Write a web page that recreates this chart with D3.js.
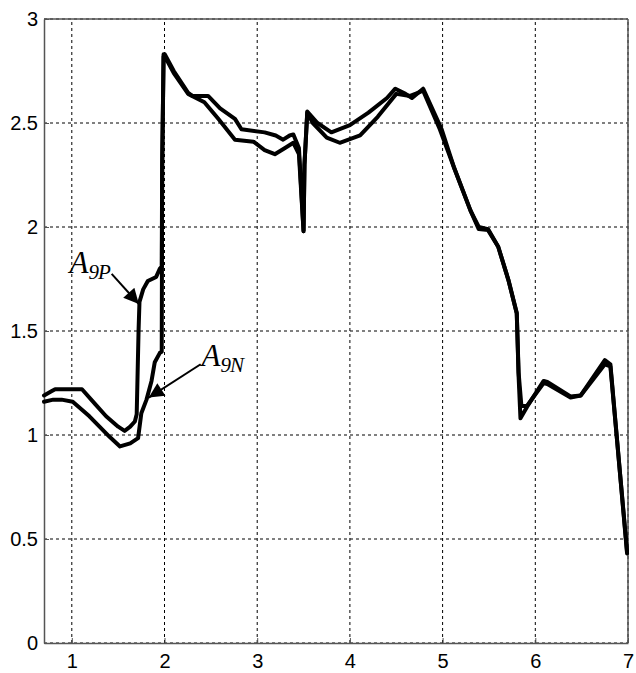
<!DOCTYPE html>
<html>
<head>
<meta charset="utf-8">
<script src="https://cdn.jsdelivr.net/npm/d3@7"></script>
<style>
body { margin: 0; background: #fff; }
svg { display: block; }
</style>
</head>
<body>
<svg id="graphe" width="636" height="673"></svg>
<script>
// valeurs
var xA9P = [0.70, 0.78, 0.82, 1.11, 1.25, 1.37, 1.50, 1.57, 1.63, 1.68, 1.70, 1.72, 1.73, 1.77, 1.82, 1.91, 1.95, 1.97, 1.975, 1.99, 2.004, 2.10, 2.255, 2.30, 2.47, 2.60, 2.76, 2.83, 3.08, 3.20, 3.28, 3.35, 3.39, 3.45, 3.50, 3.51, 3.54, 3.65, 3.80, 4.00, 4.20, 4.40, 4.49, 4.60, 4.67, 4.79, 4.99, 5.12, 5.30, 5.39, 5.49, 5.60, 5.71, 5.80, 5.82, 5.84, 5.91, 6.09, 6.13, 6.38, 6.49, 6.75, 6.81, 6.99]
var yA9P = [1.19, 1.21, 1.22, 1.22, 1.15, 1.09, 1.04, 1.02, 1.04, 1.065, 1.10, 1.50, 1.64, 1.70, 1.74, 1.76, 1.80, 1.81, 2.30, 2.83, 2.83, 2.75, 2.645, 2.63, 2.63, 2.57, 2.52, 2.47, 2.455, 2.44, 2.42, 2.44, 2.445, 2.38, 1.98, 2.30, 2.555, 2.50, 2.455, 2.49, 2.55, 2.62, 2.665, 2.64, 2.62, 2.665, 2.47, 2.29, 2.08, 1.99, 1.985, 1.905, 1.745, 1.585, 1.28, 1.08, 1.135, 1.26, 1.255, 1.185, 1.19, 1.36, 1.34, 0.43]

var xA9N = [0.70, 0.80, 0.89, 1.01, 1.19, 1.41, 1.52, 1.63, 1.715, 1.75, 1.806, 1.86, 1.895, 1.95, 1.97, 1.975, 1.99, 2.004, 2.10, 2.255, 2.43, 2.58, 2.76, 2.96, 3.08, 3.19, 3.30, 3.39, 3.45, 3.50, 3.51, 3.54, 3.60, 3.75, 3.89, 4.11, 4.30, 4.50, 4.65, 4.79, 4.97, 5.12, 5.30, 5.39, 5.49, 5.60, 5.71, 5.80, 5.82, 5.85, 5.91, 6.09, 6.13, 6.38, 6.49, 6.75, 6.81, 6.99]
var yA9N = [1.16, 1.17, 1.17, 1.16, 1.09, 0.99, 0.945, 0.96, 0.985, 1.105, 1.17, 1.26, 1.35, 1.395, 1.40, 2.30, 2.82, 2.82, 2.74, 2.64, 2.60, 2.52, 2.42, 2.41, 2.37, 2.35, 2.38, 2.405, 2.35, 1.98, 2.30, 2.55, 2.50, 2.43, 2.405, 2.44, 2.53, 2.64, 2.63, 2.655, 2.47, 2.29, 2.08, 2.00, 1.99, 1.905, 1.745, 1.585, 1.30, 1.14, 1.14, 1.25, 1.245, 1.18, 1.19, 1.34, 1.33, 0.44]

var xTicks = [1, 2, 3, 4, 5, 6, 7]
var yTicks = [0, 0.5, 1, 1.5, 2, 2.5, 3]

// annotations : [texte, indice, x texte, y texte, x queue, y queue, x pointe, y pointe]
var notes = [
    ["A", "9P", 0.975, 1.78, 1.43, 1.775, 1.723, 1.63],
    ["A", "9N", 2.40, 1.33, 2.39, 1.34, 1.83, 1.18]
]

const svg = d3.select("#graphe")

var marge = {haut: 19, droite: 8, bas: 30, gauche: 44}
var W = 636, H = 673

var x = d3.scaleLinear().domain([0.7, 7]).range([marge.gauche, W - marge.droite])
var y = d3.scaleLinear().domain([0, 3]).range([H - marge.bas, marge.haut])

//-------------------grille pointillée----------------------------------------
svg.append("g")
    .selectAll("line")
    .data(xTicks)
    .join("line")
    .attr("x1", d => x(d)).attr("x2", d => x(d))
    .attr("y1", y(0)).attr("y2", y(3))
    .attr("stroke", "black")
    .attr("stroke-width", 1)
    .attr("stroke-dasharray", "3,3")

svg.append("g")
    .selectAll("line")
    .data(yTicks)
    .join("line")
    .attr("x1", x(0.7)).attr("x2", x(7))
    .attr("y1", d => y(d)).attr("y2", d => y(d))
    .attr("stroke", "black")
    .attr("stroke-width", 1)
    .attr("stroke-dasharray", "3,3")

//-------------------axes----------------------------------------
var axeX = svg.append("g")
    .attr("transform", "translate(0," + y(0) + ")")
    .call(d3.axisBottom(x).tickValues(xTicks).tickFormat(d3.format("d")).tickSizeInner(-5).tickSizeOuter(0).tickPadding(11))

var axeY = svg.append("g")
    .attr("transform", "translate(" + x(0.7) + ",0)")
    .call(d3.axisLeft(y).tickValues(yTicks).tickFormat(d => String(d)).tickSizeInner(-5).tickSizeOuter(0).tickPadding(6))

for (var a of [axeX, axeY]) {
    a.select(".domain").attr("stroke", "#555").attr("stroke-width", 1.5)
    a.selectAll(".tick line").attr("stroke", "#555")
    a.selectAll("text")
        .attr("fill", "black")
        .style("font-family", "'Liberation Sans', Arial, sans-serif")
        .style("font-size", "20px")
}

// cadre haut et droite
svg.append("line")
    .attr("x1", x(0.7)).attr("x2", x(7)).attr("y1", y(3)).attr("y2", y(3))
    .attr("stroke", "#555").attr("stroke-width", 1.5)
svg.append("line")
    .attr("x1", x(7)).attr("x2", x(7)).attr("y1", y(3)).attr("y2", y(0))
    .attr("stroke", "#555").attr("stroke-width", 1.5)

//-------------------courbes----------------------------------------
var ligne = d3.line()
    .x(d => x(d[0]))
    .y(d => y(d[1]))

function courbe(xs, ys) {
    svg.append("path")
        .attr("d", ligne(d3.zip(xs, ys)))
        .attr("fill", "none")
        .attr("stroke", "black")
        .attr("stroke-width", 4)
        .attr("stroke-linejoin", "round")
        .attr("stroke-linecap", "round")
}

courbe(xA9P, yA9P)
courbe(xA9N, yA9N)

//-------------------annotations----------------------------------------
svg.append("defs").append("marker")
    .attr("id", "fleche")
    .attr("viewBox", "0 0 10 10")
    .attr("refX", 10).attr("refY", 5)
    .attr("markerWidth", 20).attr("markerHeight", 15)
    .attr("markerUnits", "userSpaceOnUse")
    .attr("orient", "auto")
    .append("path")
    .attr("d", "M0,0 L10,5 L0,10 Z")
    .attr("fill", "black")

for (var n of notes) {
    svg.append("line")
        .attr("x1", x(n[4])).attr("y1", y(n[5]))
        .attr("x2", x(n[6])).attr("y2", y(n[7]))
        .attr("stroke", "black")
        .attr("stroke-width", 2)
        .attr("marker-end", "url(#fleche)")

    var t = svg.append("text")
        .attr("x", x(n[2])).attr("y", y(n[3]))
        .style("font-family", "'Liberation Serif', 'Times New Roman', serif")
        .style("font-style", "italic")
        .attr("fill", "black")
    t.append("tspan").text(n[0]).style("font-size", "31px")
    t.append("tspan").text(n[1]).style("font-size", "21px").attr("dy", 6).attr("letter-spacing", "-1")
}
</script>
</body>
</html>
